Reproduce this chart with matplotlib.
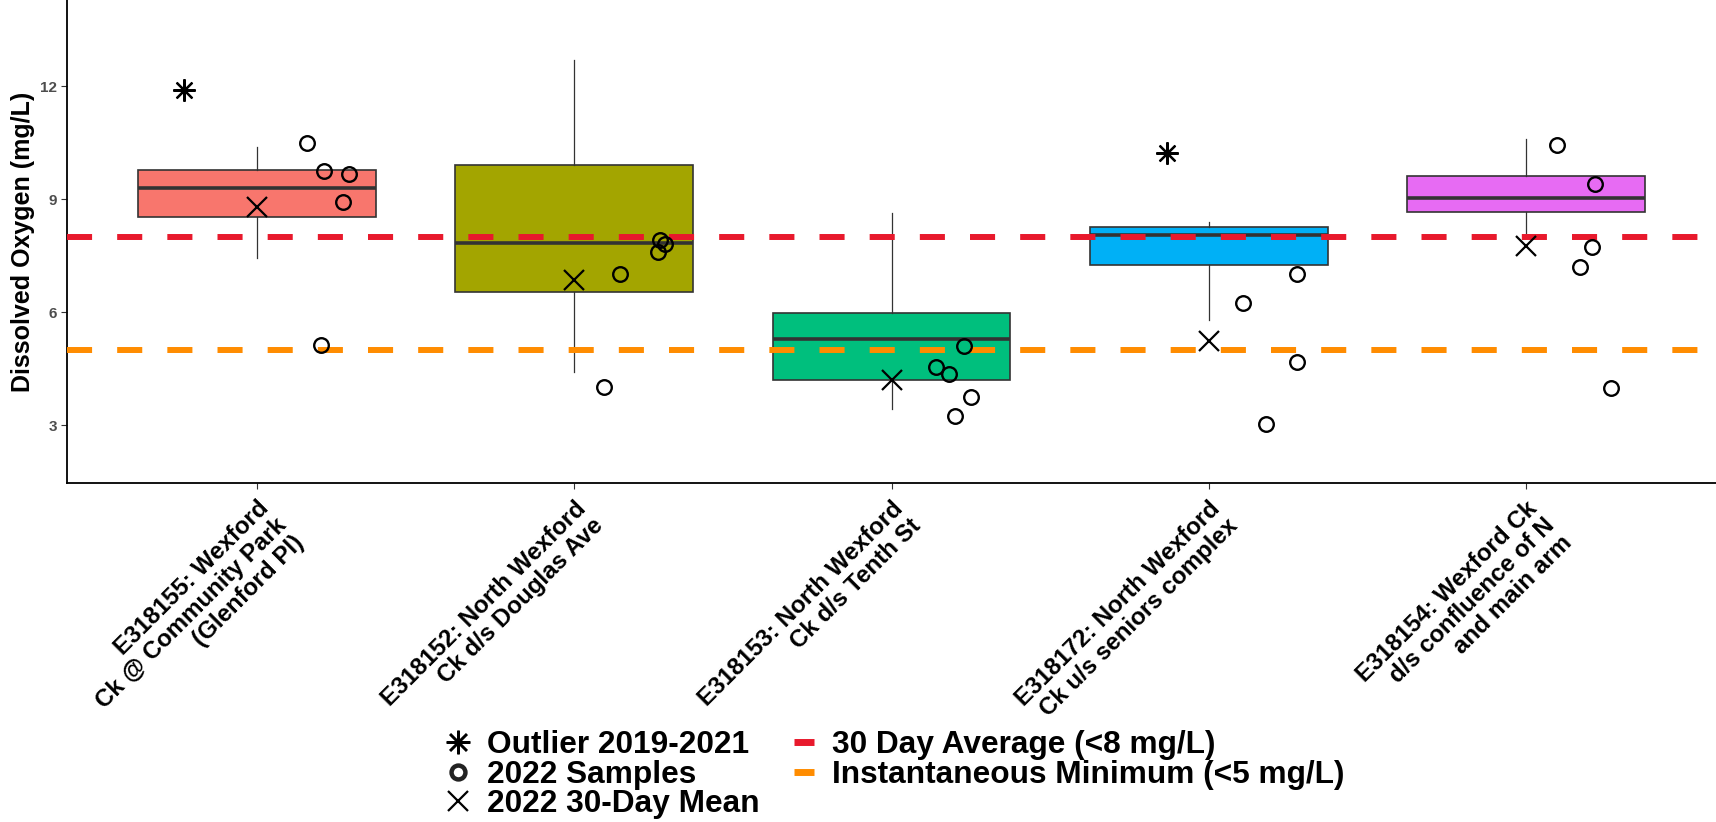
import matplotlib
matplotlib.use("Agg")
import matplotlib.pyplot as plt
from matplotlib.lines import Line2D
import numpy as np

plt.rcParams['font.family'] = ['Liberation Sans', 'DejaVu Sans']

# ---------------- data ----------------
sites = [
    "E318155: Wexford\nCk @ Community Park\n(Glenford Pl)",
    "E318152: North Wexford\nCk d/s Douglas Ave",
    "E318153: North Wexford\nCk d/s Tenth St",
    "E318172: North Wexford\nCk u/s seniors complex",
    "E318154: Wexford Ck\nd/s confluence of N\nand main arm",
]
box_colors = ["#F8766D", "#A3A500", "#00BF7D", "#00B0F6", "#E76BF3"]

# box statistics 2019-2021
q1 = [8.54, 6.55, 4.21, 7.26, 8.67]
median = [9.29, 7.84, 5.29, 8.04, 9.03]
q3 = [9.78, 9.91, 5.99, 8.27, 9.62]
whisker_low = [7.45, 4.41, 3.44, 5.80, 8.11]
whisker_high = [10.40, 12.70, 8.64, 8.39, 10.59]

# outliers 2019-2021 (site index, value, jitter offset)
outlier_site = [0, 3]
outlier_value = [11.89, 10.22]
outlier_jitter = [-0.23, -0.13]

# 2022 samples (site index, value, jitter offset)
sample_site = [0, 0, 0, 0, 0,
               1, 1, 1, 1, 1,
               2, 2, 2, 2, 2,
               3, 3, 3, 3,
               4, 4, 4, 4, 4]
sample_value = [10.49, 9.74, 9.67, 8.93, 5.14,
                7.03, 7.93, 7.82, 7.61, 4.01,
                5.11, 4.54, 4.36, 3.75, 3.26,
                7.01, 6.24, 4.69, 3.04,
                10.44, 9.40, 7.74, 7.21, 3.99]
sample_jitter = [0.156, 0.21, 0.29, 0.27, 0.20,
                 0.145, 0.27, 0.285, 0.265, 0.093,
                 0.23, 0.14, 0.18, 0.25, 0.20,
                 0.28, 0.11, 0.28, 0.18,
                 0.10, 0.22, 0.21, 0.17, 0.27]

# 2022 30-day mean
mean_2022 = [8.79, 6.86, 4.21, 5.25, 7.76]

# guidelines
avg_30day = 8.0
inst_min = 5.0

y_ticks = [3, 6, 9, 12]
y_limits = (1.47, 14.29)

legend_labels_left = ["Outlier 2019-2021", "2022 Samples", "2022 30-Day Mean"]
legend_labels_right = ["30 Day Average (<8 mg/L)", "Instantaneous Minimum (<5 mg/L)"]

RED = "#E8192C"
ORANGE = "#FF8C00"

# ---------------- figure ----------------
W, H = 1716, 822
fig = plt.figure(figsize=(W / 100, H / 100), dpi=100)
ax = fig.add_axes([67 / W, (H - 483) / H, (W - 67) / W, 483 / H])

positions = np.arange(1, len(sites) + 1)
stats = []
for i in range(len(sites)):
    stats.append(dict(med=median[i], q1=q1[i], q3=q3[i],
                      whislo=whisker_low[i], whishi=whisker_high[i], fliers=[]))
bp = ax.bxp(stats, positions=positions, widths=0.75, patch_artist=True,
            showcaps=False, showfliers=False,
            boxprops=dict(edgecolor="#333333", linewidth=1.2),
            medianprops=dict(color="#333333", linewidth=2.6),
            whiskerprops=dict(color="#333333", linewidth=0.9),
            zorder=2)
for patch, c in zip(bp['boxes'], box_colors):
    patch.set_facecolor(c)

# guideline dashed lines
ax.axhline(avg_30day, color=RED, lw=4.3, dashes=(4.2, 4.2), zorder=3)
ax.axhline(inst_min, color=ORANGE, lw=4.3, dashes=(4.2, 4.2), zorder=3)

# points
sx = np.array(sample_site) + 1 + np.array(sample_jitter)
ax.plot(sx, sample_value, linestyle='none', marker='o', ms=10.5,
        markerfacecolor='none', markeredgecolor='black', mew=1.7, zorder=5)
ox = np.array(outlier_site) + 1 + np.array(outlier_jitter)
ax.plot(ox, outlier_value, linestyle='none', marker=(8, 2, 0), ms=16,
        color='black', mew=1.6, zorder=5)
ax.plot(positions, mean_2022, linestyle='none', marker='x', ms=15,
        color='black', mew=1.6, zorder=5)

# axes styling (classic)
ax.set_xlim(0.4, 5.6)
ax.set_ylim(*y_limits)
ax.set_yticks(y_ticks)
ax.set_yticklabels([str(t) for t in y_ticks], fontsize=11, fontweight='bold',
                   color="#4D4D4D")
ax.set_xticks(positions)
ax.set_xticklabels(sites, rotation=45, ha='right', va='top',
                   rotation_mode='anchor', fontsize=17.4, fontweight='bold',
                   color='black', linespacing=1.08)
ax.tick_params(axis='both', length=4, width=0.8, color="#333333")
ax.tick_params(axis='x', pad=6)
ax.tick_params(axis='y', pad=3)
for side in ['top', 'right']:
    ax.spines[side].set_visible(False)
for side in ['left', 'bottom']:
    ax.spines[side].set_linewidth(1.3)
    ax.spines[side].set_color('black')
ax.set_ylabel("Dissolved Oxygen (mg/L)", fontsize=18, fontweight='bold')
ax.yaxis.set_label_coords(-32 / (W - 67), 0.5)

# ---------------- manual legend ----------------
def fx(px):
    return px / W

def fy(py):
    return 1 - py / H

row_center = [742, 772, 801]
row_base = [753, 783, 812]
leg_fs = 22.8

left_markers = [dict(marker=(8, 2, 0), ms=17, mew=1.8, mfc='black', mec='black'),
                dict(marker='o', ms=10, mew=3.2, mfc='none', mec='#222222'),
                dict(marker='x', ms=15, mew=1.6, mfc='black', mec='black')]
for r, (lab, mk) in enumerate(zip(legend_labels_left, left_markers)):
    fig.add_artist(Line2D([fx(458)], [fy(row_center[r])], linestyle='none',
                          transform=fig.transFigure, **mk))
    fig.text(fx(487), fy(row_base[r]), lab, fontsize=leg_fs, fontweight='bold',
             ha='left', va='baseline')

for r, (lab, col) in enumerate(zip(legend_labels_right, [RED, ORANGE])):
    fig.add_artist(Line2D([fx(794), fx(814)], [fy(row_center[r])] * 2, color=col,
                          lw=5, solid_capstyle='butt', transform=fig.transFigure))
    fig.text(fx(832), fy(row_base[r]), lab, fontsize=leg_fs, fontweight='bold',
             ha='left', va='baseline')

fig.savefig("out.png", dpi=100, facecolor='white')
